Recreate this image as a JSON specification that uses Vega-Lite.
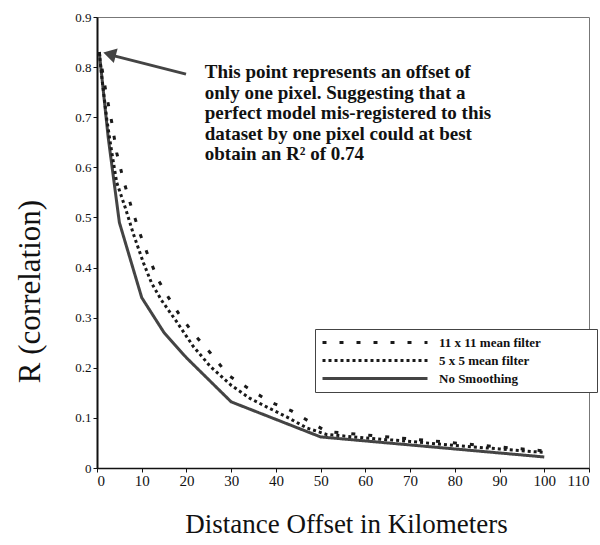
{
  "$schema": "https://vega.github.io/schema/vega-lite/v6.json",
  "autosize": {"type": "none"},
  "padding": {"left": 97, "top": 17, "right": 11, "bottom": 77},
  "width": 492,
  "height": 451,
  "background": "white",
  "config": {
    "view": {"stroke": "#777", "strokeWidth": 1},
    "font": "Liberation Serif"
  },
  "datasets": {
    "curves": [
      {"series": "No Smoothing", "x": 0.5, "r": 0.83},
      {"series": "No Smoothing", "x": 2.5, "r": 0.66},
      {"series": "No Smoothing", "x": 5, "r": 0.49},
      {"series": "No Smoothing", "x": 10, "r": 0.34},
      {"series": "No Smoothing", "x": 15, "r": 0.27},
      {"series": "No Smoothing", "x": 20, "r": 0.22},
      {"series": "No Smoothing", "x": 30, "r": 0.132},
      {"series": "No Smoothing", "x": 50, "r": 0.062},
      {"series": "No Smoothing", "x": 100, "r": 0.022},
      {"series": "5 x 5 mean filter", "x": 0.5, "r": 0.83},
      {"series": "5 x 5 mean filter", "x": 1.2, "r": 0.77},
      {"series": "5 x 5 mean filter", "x": 2.2, "r": 0.695},
      {"series": "5 x 5 mean filter", "x": 3.3, "r": 0.63},
      {"series": "5 x 5 mean filter", "x": 4.4, "r": 0.57},
      {"series": "5 x 5 mean filter", "x": 6.3, "r": 0.52},
      {"series": "5 x 5 mean filter", "x": 8.1, "r": 0.468},
      {"series": "5 x 5 mean filter", "x": 10.4, "r": 0.409},
      {"series": "5 x 5 mean filter", "x": 12.2, "r": 0.369},
      {"series": "5 x 5 mean filter", "x": 14.4, "r": 0.335},
      {"series": "5 x 5 mean filter", "x": 17.8, "r": 0.292},
      {"series": "5 x 5 mean filter", "x": 21.5, "r": 0.243},
      {"series": "5 x 5 mean filter", "x": 25.3, "r": 0.203},
      {"series": "5 x 5 mean filter", "x": 30, "r": 0.165},
      {"series": "5 x 5 mean filter", "x": 34.2, "r": 0.139},
      {"series": "5 x 5 mean filter", "x": 37.9, "r": 0.122},
      {"series": "5 x 5 mean filter", "x": 42.4, "r": 0.102},
      {"series": "5 x 5 mean filter", "x": 46.9, "r": 0.08},
      {"series": "5 x 5 mean filter", "x": 51.3, "r": 0.067},
      {"series": "5 x 5 mean filter", "x": 60, "r": 0.06},
      {"series": "5 x 5 mean filter", "x": 70, "r": 0.053},
      {"series": "5 x 5 mean filter", "x": 80, "r": 0.045},
      {"series": "5 x 5 mean filter", "x": 90, "r": 0.038},
      {"series": "5 x 5 mean filter", "x": 100, "r": 0.031},
      {"series": "11 x 11 mean filter", "x": 0.5, "r": 0.83},
      {"series": "11 x 11 mean filter", "x": 2, "r": 0.75},
      {"series": "11 x 11 mean filter", "x": 3.3, "r": 0.69},
      {"series": "11 x 11 mean filter", "x": 4.4, "r": 0.629},
      {"series": "11 x 11 mean filter", "x": 5.9, "r": 0.575},
      {"series": "11 x 11 mean filter", "x": 7.7, "r": 0.52},
      {"series": "11 x 11 mean filter", "x": 9.6, "r": 0.468},
      {"series": "11 x 11 mean filter", "x": 11.5, "r": 0.422},
      {"series": "11 x 11 mean filter", "x": 13.7, "r": 0.375},
      {"series": "11 x 11 mean filter", "x": 16, "r": 0.34},
      {"series": "11 x 11 mean filter", "x": 18.2, "r": 0.309},
      {"series": "11 x 11 mean filter", "x": 21.5, "r": 0.269},
      {"series": "11 x 11 mean filter", "x": 25.4, "r": 0.229},
      {"series": "11 x 11 mean filter", "x": 29.4, "r": 0.185},
      {"series": "11 x 11 mean filter", "x": 33.8, "r": 0.159},
      {"series": "11 x 11 mean filter", "x": 38.7, "r": 0.132},
      {"series": "11 x 11 mean filter", "x": 43.5, "r": 0.114},
      {"series": "11 x 11 mean filter", "x": 47.6, "r": 0.092},
      {"series": "11 x 11 mean filter", "x": 51.3, "r": 0.073},
      {"series": "11 x 11 mean filter", "x": 60, "r": 0.066},
      {"series": "11 x 11 mean filter", "x": 70, "r": 0.058},
      {"series": "11 x 11 mean filter", "x": 80, "r": 0.05},
      {"series": "11 x 11 mean filter", "x": 90, "r": 0.042},
      {"series": "11 x 11 mean filter", "x": 100, "r": 0.034}
    ],
    "arrow": [
      {"x": 19.9, "r": 0.786, "x2": 3.2, "r2": 0.824}
    ],
    "head": [
      {"x": 2.8, "r": 0.826}
    ],
    "note": [
      {"x": 24.1, "r": 0.778, "text": ["This point represents an offset of", "only one pixel. Suggesting that a", "perfect model mis-registered to this", "dataset by one pixel could at best", "obtain an R² of 0.74"]}
    ]
  },
  "layer": [
    {
      "data": {"name": "curves"},
      "mark": {"type": "line", "strokeWidth": 3, "clip": true},
      "encoding": {
        "x": {
          "field": "x", "type": "quantitative",
          "scale": {"domain": [0, 110], "nice": false},
          "axis": {
            "values": [0, 10, 20, 30, 40, 50, 60, 70, 80, 90, 100, 110],
            "format": "d",
            "grid": false,
            "domainColor": "#111", "domainWidth": 1.5,
            "tickColor": "#111", "tickSize": 4,
            "labelFont": "Liberation Serif", "labelFontSize": 15, "labelColor": "#111",
            "labelPadding": 1,
            "title": "Distance Offset in Kilometers",
            "titleFont": "Liberation Serif", "titleFontSize": 27, "titleFontWeight": "normal", "titleColor": "#111",
            "titleX": 249, "titleY": 64, "titleAlign": "center", "titleBaseline": "alphabetic"
          }
        },
        "y": {
          "field": "r", "type": "quantitative",
          "scale": {"domain": [0, 0.9], "nice": false},
          "axis": {
            "values": [0, 0.1, 0.2, 0.3, 0.4, 0.5, 0.6, 0.7, 0.8, 0.9],
            "format": ".1~f",
            "grid": false,
            "domainColor": "#111", "domainWidth": 2,
            "tickColor": "#111", "tickSize": 4,
            "labelFont": "Liberation Serif", "labelFontSize": 13, "labelColor": "#111",
            "labelPadding": 2,
            "title": "R (correlation)",
            "titleFont": "Liberation Serif", "titleFontSize": 31, "titleFontWeight": "normal", "titleColor": "#111",
            "titleX": -67, "titleY": 274, "titleAngle": -90, "titleAlign": "center", "titleBaseline": "middle"
          }
        },
        "color": {
          "field": "series", "type": "nominal",
          "scale": {"domain": ["11 x 11 mean filter", "5 x 5 mean filter", "No Smoothing"], "range": ["#1a1a1a", "#1a1a1a", "#444444"]},
          "legend": {
            "orient": "none", "legendX": 218, "legendY": 312,
            "title": null,
            "symbolType": "stroke", "symbolSize": 11025, "symbolStrokeWidth": 3,
            "clipHeight": 15, "rowPadding": 3,
            "labelFont": "Liberation Serif", "labelFontSize": 13, "labelFontWeight": "bold", "labelColor": "#111",
            "labelOffset": 10, "labelLimit": 300,
            "labelExpr": "datum.label + '\u2800\u2800\u2800\u2800\u2800'",
            "strokeColor": "#444", "fillColor": "white", "padding": 6
          }
        },
        "strokeDash": {
          "field": "series", "type": "nominal",
          "scale": {"domain": ["11 x 11 mean filter", "5 x 5 mean filter", "No Smoothing"], "range": [[4, 13], [3, 3], [1, 0]]},
          "legend": {
            "orient": "none", "legendX": 218, "legendY": 312,
            "title": null,
            "symbolType": "stroke", "symbolSize": 11025, "symbolStrokeWidth": 3,
            "clipHeight": 15, "rowPadding": 3,
            "labelFont": "Liberation Serif", "labelFontSize": 13, "labelFontWeight": "bold", "labelColor": "#111",
            "labelOffset": 10, "labelLimit": 300,
            "labelExpr": "datum.label + '\u2800\u2800\u2800\u2800\u2800'",
            "strokeColor": "#444", "fillColor": "white", "padding": 6
          }
        },
        "order": {"field": "x", "type": "quantitative"}
      }
    },
    {
      "data": {"name": "arrow"},
      "mark": {"type": "rule", "stroke": "#444", "strokeWidth": 3},
      "encoding": {
        "x": {"field": "x", "type": "quantitative"},
        "y": {"field": "r", "type": "quantitative"},
        "x2": {"field": "x2"},
        "y2": {"field": "r2"}
      }
    },
    {
      "data": {"name": "head"},
      "mark": {"type": "point", "shape": "triangle-left", "filled": true, "color": "#444", "size": 220, "angle": 15, "opacity": 1},
      "encoding": {
        "x": {"field": "x", "type": "quantitative"},
        "y": {"field": "r", "type": "quantitative"}
      }
    },
    {
      "data": {"name": "note"},
      "mark": {"type": "text", "align": "left", "baseline": "alphabetic", "font": "Liberation Serif", "fontSize": 19, "fontWeight": "bold", "color": "#111", "lineHeight": 20.5},
      "encoding": {
        "x": {"field": "x", "type": "quantitative"},
        "y": {"field": "r", "type": "quantitative"},
        "text": {"field": "text"}
      }
    }
  ]
}
